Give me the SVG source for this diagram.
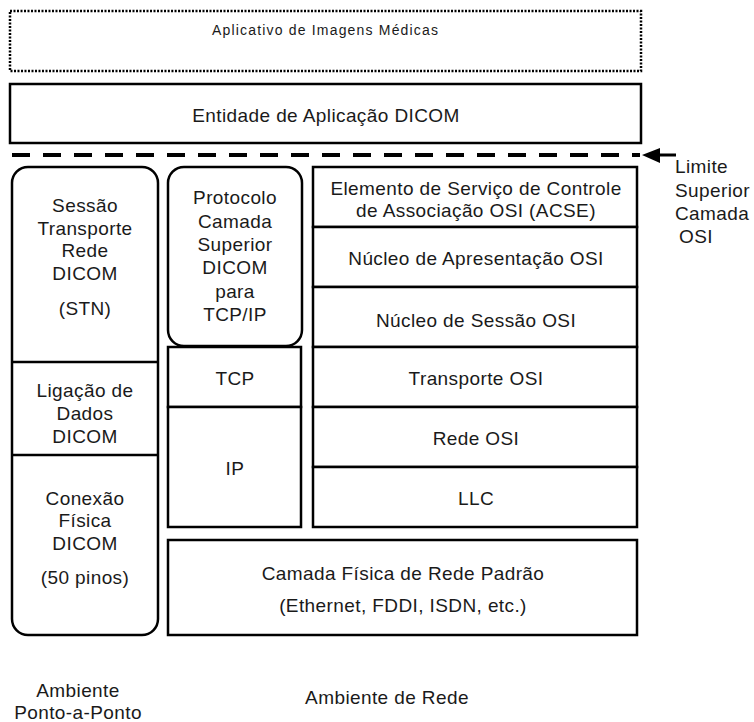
<svg xmlns="http://www.w3.org/2000/svg" width="754" height="722" viewBox="0 0 754 722">
<style>
text{font-family:"Liberation Sans",Arial,sans-serif;font-size:19px;fill:#1a1a1a;text-anchor:middle;letter-spacing:0.4px}
.box{fill:#fff;stroke:#000;stroke-width:2.5}
.ln{stroke:#000;stroke-width:2.5;fill:none}
.lbl{text-anchor:start}
</style>
<rect width="754" height="722" fill="#fff"/>

<g id="aplicativo">
<rect x="10" y="11" width="631" height="60" fill="#fff" stroke="#000" stroke-width="2.5" stroke-dasharray="2 1.5"/>
<text x="325" y="35" style="font-size:14px;letter-spacing:0" textLength="226" lengthAdjust="spacing">Aplicativo de Imagens Médicas</text>
</g>

<g id="entidade">
<rect class="box" x="10" y="84" width="631" height="59"/>
<text x="326" y="122">Entidade de Aplicação DICOM</text>
</g>

<g id="connectors">
<line x1="12" y1="155" x2="640" y2="155" stroke="#000" stroke-width="4" stroke-dasharray="18 13"/>
<line x1="658" y1="155" x2="676" y2="155" stroke="#000" stroke-width="3"/>
<polygon points="642,155 660,148 660,163" fill="#000"/>
</g>

<g id="limite">
<text class="lbl" x="675" y="173">Limite</text>
<text class="lbl" x="675" y="197">Superior</text>
<text class="lbl" x="675" y="220">Camada</text>
<text class="lbl" x="679" y="243">OSI</text>
</g>

<g id="coluna-ponto-a-ponto">
<rect class="box" x="12" y="167" width="146" height="468" rx="16"/>
<line class="ln" x1="12" y1="362" x2="158" y2="362"/>
<line class="ln" x1="12" y1="455" x2="158" y2="455"/>
</g>
<g id="stn">
<text x="85" y="212">Sessão</text>
<text x="85" y="235">Transporte</text>
<text x="85" y="257">Rede</text>
<text x="85" y="280">DICOM</text>
<text x="85" y="315">(STN)</text>
</g>
<g id="ligacao">
<text x="85" y="397">Ligação de</text>
<text x="85" y="420">Dados</text>
<text x="85" y="443">DICOM</text>
</g>
<g id="conexao">
<text x="85" y="505">Conexão</text>
<text x="85" y="527">Física</text>
<text x="85" y="550">DICOM</text>
<text x="85" y="584">(50 pinos)</text>
</g>

<g id="protocolo">
<rect class="box" x="168" y="167" width="134" height="179" rx="16"/>
<text x="235" y="204">Protocolo</text>
<text x="235" y="228">Camada</text>
<text x="235" y="251">Superior</text>
<text x="235" y="274">DICOM</text>
<text x="235" y="298">para</text>
<text x="235" y="321">TCP/IP</text>
</g>
<g id="tcp">
<rect class="box" x="168" y="347" width="133" height="60"/>
<text x="235" y="385">TCP</text>
</g>
<g id="ip">
<rect class="box" x="168" y="407" width="133" height="120"/>
<text x="235" y="475">IP</text>
</g>

<g id="acse">
<rect class="box" x="313" y="167" width="324" height="60"/>
<text x="476" y="195">Elemento de Serviço de Controle</text>
<text x="476" y="217">de Associação OSI (ACSE)</text>
</g>
<g id="apresentacao">
<rect class="box" x="313" y="227" width="324" height="60"/>
<text x="476" y="265">Núcleo de Apresentação OSI</text>
</g>
<g id="sessao">
<rect class="box" x="313" y="287" width="324" height="60"/>
<text x="476" y="327">Núcleo de Sessão OSI</text>
</g>
<g id="transporte">
<rect class="box" x="313" y="347" width="324" height="60"/>
<text x="476" y="385">Transporte OSI</text>
</g>
<g id="rede">
<rect class="box" x="313" y="407" width="324" height="60"/>
<text x="476" y="445">Rede OSI</text>
</g>
<g id="llc">
<rect class="box" x="313" y="467" width="324" height="60"/>
<text x="476" y="505">LLC</text>
</g>

<g id="camada-fisica">
<rect class="box" x="168" y="540" width="469" height="95"/>
<text x="403" y="580">Camada Física de Rede Padrão</text>
<text x="403" y="612">(Ethernet, FDDI, ISDN, etc.)</text>
</g>

<g id="ambientes">
<text x="78" y="697">Ambiente</text>
<text x="78" y="719">Ponto-a-Ponto</text>
<text x="387" y="704">Ambiente de Rede</text>
</g>
</svg>
